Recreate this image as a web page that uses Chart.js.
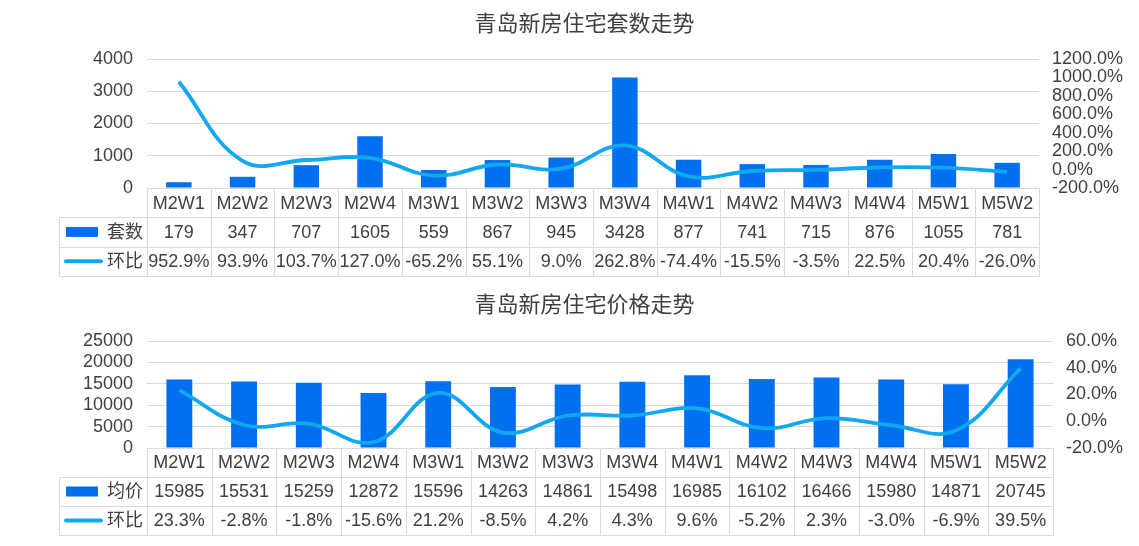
<!DOCTYPE html>
<html>
<head>
<meta charset="utf-8">
<script src="https://cdn.jsdelivr.net/npm/chart.js@4"></script>
<style>
  html, body { margin: 0; padding: 0; background: #fff; }
  #wrap { position: relative; width: 1139px; height: 546px; }
  #graficoTopo { position: absolute; left: 0; top: 0; }
  #graficoBase { position: absolute; left: 0; top: 280px; }
</style>
</head>
<body>
<div id="wrap">
  <canvas id="graficoTopo" width="1139" height="280"></canvas>
  <canvas id="graficoBase" width="1139" height="266"></canvas>
</div>
<script>
  // dados
  const semanas = ['M2W1', 'M2W2', 'M2W3', 'M2W4', 'M3W1', 'M3W2', 'M3W3', 'M3W4', 'M4W1', 'M4W2', 'M4W3', 'M4W4', 'M5W1', 'M5W2']
  const tituloTopo = '青岛新房住宅套数走势'
  const tituloBase = '青岛新房住宅价格走势'
  const nomeTaoshu = '套数'
  const nomeJunjia = '均价'
  const nomeHuanbi = '环比'
  const taoshu = [179, 347, 707, 1605, 559, 867, 945, 3428, 877, 741, 715, 876, 1055, 781]
  const taoshuHuanbi = [952.9, 93.9, 103.7, 127.0, -65.2, 55.1, 9.0, 262.8, -74.4, -15.5, -3.5, 22.5, 20.4, -26.0]
  const junjia = [15985, 15531, 15259, 12872, 15596, 14263, 14861, 15498, 16985, 16102, 16466, 15980, 14871, 20745]
  const junjiaHuanbi = [23.3, -2.8, -1.8, -15.6, 21.2, -8.5, 4.2, 4.3, 9.6, -5.2, 2.3, -3.0, -6.9, 39.5]
  // limites dos eixos
  const eixoTopo = { min: 0, max: 4000, passo: 1000 }
  const eixoTopoPct = { min: -200, max: 1200, passo: 200 }
  const eixoBase = { min: 0, max: 25000, passo: 5000 }
  const eixoBasePct = { min: -20, max: 60, passo: 20 }

  const corBarra = '#0070f0'
  const corLinha = '#12a8f0'
  const corTexto = '#404040'
  const corGrade = '#d9d9d9'
  const fonte = '"Liberation Sans", Arial, "Noto Sans CJK SC", sans-serif'

  function formatarPct (v) {
    return Number(v).toFixed(1) + '%'
  }

  // desenha a tabela de dados embaixo do grafico
  const tabelaPlugin = {
    id: 'tabelaDados',
    afterDraw (chart, args, opts) {
      const ctx = chart.ctx
      const area = chart.chartArea
      const n = chart.data.labels.length
      const w = (area.right - area.left) / n
      const h = opts.alturaLinha
      const topo = area.bottom
      const fundo = topo + h * 3
      const esq = opts.legendaEsq
      const px = v => Math.round(v) + 0.5

      ctx.save()
      ctx.strokeStyle = corGrade
      ctx.lineWidth = 1
      ctx.beginPath()
      ctx.moveTo(px(area.left), px(topo)); ctx.lineTo(px(area.right), px(topo))
      for (let r = 1; r <= 3; r++) {
        ctx.moveTo(px(esq), px(topo + h * r)); ctx.lineTo(px(area.right), px(topo + h * r))
      }
      for (let i = 0; i <= n; i++) {
        const xx = px(area.left + i * w)
        ctx.moveTo(xx, px(topo)); ctx.lineTo(xx, px(fundo))
      }
      ctx.moveTo(px(esq), px(topo + h)); ctx.lineTo(px(esq), px(fundo))
      ctx.stroke()

      ctx.fillStyle = corTexto
      ctx.font = '18px ' + fonte
      ctx.textAlign = 'center'
      ctx.textBaseline = 'middle'
      const barras = chart.data.datasets[1]
      const linha = chart.data.datasets[0]
      chart.data.labels.forEach((lbl, i) => {
        const cx = chart.scales.x.getPixelForValue(i)
        ctx.fillText(lbl, cx, topo + h * 0.5 + 1)
        ctx.fillText(String(barras.data[i]), cx, topo + h * 1.5 + 1)
        ctx.fillText(formatarPct(linha.data[i]), cx, topo + h * 2.5 + 1)
      })

      // legenda dentro da tabela
      const y1 = topo + h * 1.5
      const y2 = topo + h * 2.5
      ctx.fillStyle = corBarra
      ctx.fillRect(esq + 7, y1 - 5, 32, 10)
      ctx.strokeStyle = corLinha
      ctx.lineWidth = 4
      ctx.lineCap = 'round'
      ctx.beginPath()
      ctx.moveTo(esq + 7, y2); ctx.lineTo(esq + 42, y2)
      ctx.stroke()
      ctx.fillStyle = corTexto
      ctx.textAlign = 'left'
      ctx.fillText(barras.label, esq + 48, y1 + 1)
      ctx.fillText(linha.label, esq + 48, y2 + 1)
      ctx.restore()
    }
  }

  function criarGrafico (id, cfg) {
    return new Chart(document.getElementById(id), {
      type: 'bar',
      data: {
        labels: semanas,
        datasets: [
          {
            type: 'line',
            label: nomeHuanbi,
            data: cfg.pct,
            yAxisID: 'y1',
            borderColor: corLinha,
            borderWidth: 3.8,
            pointRadius: 0,
            tension: 0.4,
            fill: false,
            order: 0
          },
          {
            type: 'bar',
            label: cfg.nomeBarra,
            data: cfg.valores,
            yAxisID: 'y',
            backgroundColor: corBarra,
            categoryPercentage: 0.8,
            barPercentage: 0.5,
            order: 1
          }
        ]
      },
      options: {
        responsive: false,
        animation: false,
        layout: { padding: { left: 30, right: 0, top: 0, bottom: cfg.padFundo } },
        plugins: {
          legend: { display: false },
          tooltip: { enabled: false },
          title: {
            display: true,
            text: cfg.titulo,
            color: corTexto,
            font: { family: '"Noto Sans CJK SC", sans-serif', size: 22, weight: 'normal', lineHeight: 1.2 },
            padding: { top: cfg.titTopo, bottom: cfg.titFundo }
          },
          tabelaDados: { alturaLinha: cfg.alturaLinha, legendaEsq: 59 }
        },
        scales: {
          x: { display: false },
          y: {
            position: 'left',
            min: cfg.eixo.min,
            max: cfg.eixo.max,
            ticks: {
              stepSize: cfg.eixo.passo,
              color: corTexto,
              font: { family: fonte, size: 18, lineHeight: 1 },
              padding: 14,
              autoSkip: false,
              callback: v => String(v)
            },
            grid: { color: corGrade, drawTicks: false },
            border: { display: false },
            afterFit (s) { s.width = 117 }
          },
          y1: {
            position: 'right',
            min: cfg.eixoPct.min,
            max: cfg.eixoPct.max,
            ticks: {
              stepSize: cfg.eixoPct.passo,
              color: corTexto,
              font: { family: fonte, size: 18, lineHeight: 1 },
              padding: 13,
              autoSkip: false,
              callback: v => formatarPct(v)
            },
            grid: { display: false, drawTicks: false },
            border: { display: false },
            afterFit (s) { s.width = cfg.larguraDir }
          }
        }
      },
      plugins: [tabelaPlugin]
    })
  }

  criarGrafico('graficoTopo', {
    titulo: tituloTopo,
    nomeBarra: nomeTaoshu,
    valores: taoshu,
    pct: taoshuHuanbi,
    eixo: eixoTopo,
    eixoPct: eixoTopoPct,
    padFundo: 92,
    titTopo: 9,
    titFundo: 23.6,
    alturaLinha: 29.3,
    larguraDir: 100
  })

  criarGrafico('graficoBase', {
    titulo: tituloBase,
    nomeBarra: nomeJunjia,
    valores: junjia,
    pct: junjiaHuanbi,
    eixo: eixoBase,
    eixoPct: eixoBasePct,
    padFundo: 98,
    titTopo: 10,
    titFundo: 24.6,
    alturaLinha: 29,
    larguraDir: 86
  })
</script>
</body>
</html>
